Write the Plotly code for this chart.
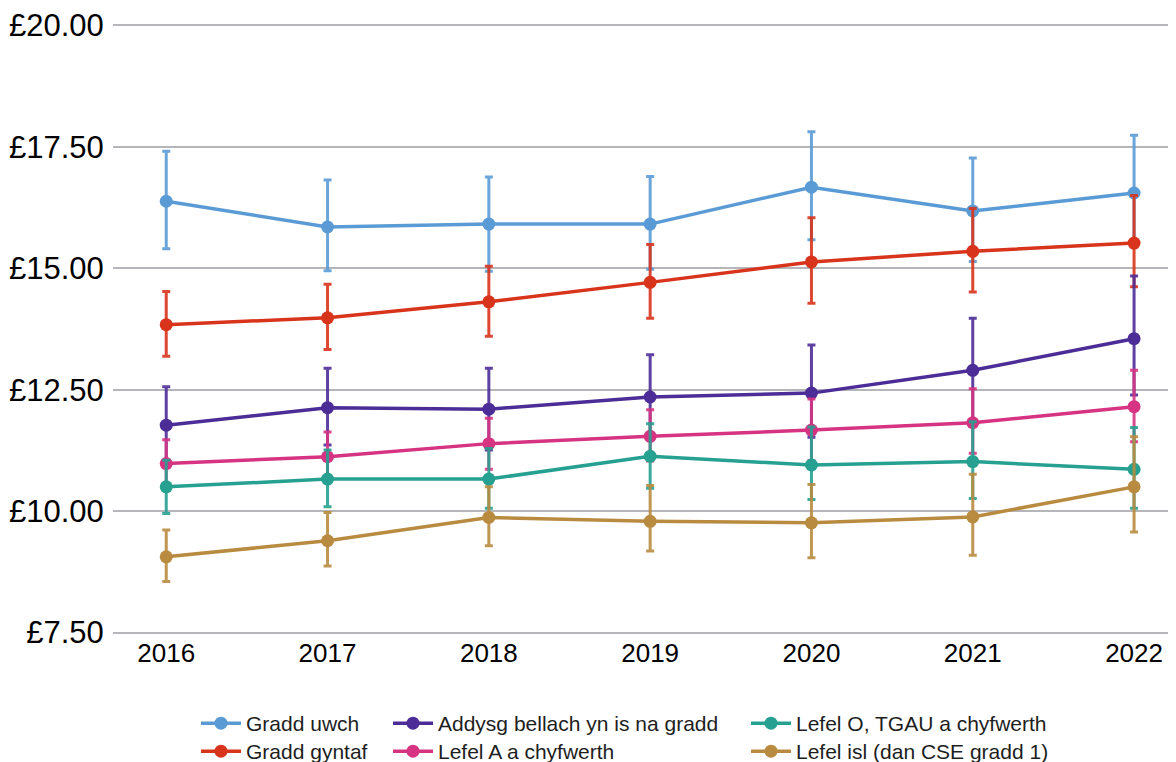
import plotly.graph_objects as go

years = [2016, 2017, 2018, 2019, 2020, 2021, 2022]

names = [
    'Gradd uwch',
    'Gradd gyntaf',
    'Addysg bellach yn is na gradd',
    'Lefel A a chyfwerth',
    'Lefel O, TGAU a chyfwerth',
    'Lefel isl (dan CSE gradd 1)',
]

gradd_uwch = [16.38, 15.85, 15.91, 15.91, 16.67, 16.18, 16.55]
gradd_uwch_hi = [17.41, 16.82, 16.88, 16.89, 17.81, 17.27, 17.74]
gradd_uwch_lo = [15.40, 14.95, 14.94, 14.98, 15.59, 15.14, 15.44]

gradd_gyntaf = [13.84, 13.98, 14.31, 14.71, 15.13, 15.35, 15.52]
gradd_gyntaf_hi = [14.52, 14.67, 15.04, 15.49, 16.04, 16.23, 16.50]
gradd_gyntaf_lo = [13.19, 13.33, 13.60, 13.97, 14.28, 14.51, 14.62]

addysg = [11.77, 12.13, 12.10, 12.35, 12.43, 12.90, 13.55]
addysg_hi = [12.56, 12.94, 12.94, 13.22, 13.42, 13.97, 14.84]
addysg_lo = [11.01, 11.36, 11.26, 11.53, 11.52, 11.87, 12.39]

lefel_a = [10.98, 11.12, 11.39, 11.54, 11.67, 11.82, 12.15]
lefel_a_hi = [11.47, 11.63, 11.91, 12.09, 12.31, 12.52, 12.90]
lefel_a_lo = [10.50, 10.64, 10.86, 11.03, 11.04, 11.19, 11.43]

lefel_o = [10.50, 10.66, 10.66, 11.13, 10.95, 11.02, 10.86]
lefel_o_hi = [11.05, 11.26, 11.29, 11.80, 11.73, 11.84, 11.72]
lefel_o_lo = [9.95, 10.09, 10.06, 10.47, 10.24, 10.26, 10.06]

lefel_isl = [9.06, 9.39, 9.87, 9.79, 9.76, 9.88, 10.50]
lefel_isl_hi = [9.61, 9.97, 10.50, 10.53, 10.55, 10.76, 11.53]
lefel_isl_lo = [8.55, 8.87, 9.29, 9.18, 9.04, 9.09, 9.57]

y_ticks = [7.5, 10, 12.5, 15, 17.5, 20]
y_tick_text = ['£7.50', '£10.00', '£12.50', '£15.00', '£17.50', '£20.00']

colors = [
    (91, 155, 213),
    (216, 52, 28),
    (76, 44, 150),
    (214, 52, 130),
    (38, 160, 144),
    (185, 139, 64),
]

series = [
    (gradd_uwch, gradd_uwch_hi, gradd_uwch_lo),
    (gradd_gyntaf, gradd_gyntaf_hi, gradd_gyntaf_lo),
    (addysg, addysg_hi, addysg_lo),
    (lefel_a, lefel_a_hi, lefel_a_lo),
    (lefel_o, lefel_o_hi, lefel_o_lo),
    (lefel_isl, lefel_isl_hi, lefel_isl_lo),
]

font_family = 'Liberation Sans, Arial, sans-serif'

# page body has an 8px margin, so the figure is a bit smaller than the window
W, H = 1168, 754

# one legend per entry so the 3x2 grid can have uneven columns
legend_ids = ['legend', 'legend2', 'legend3', 'legend4', 'legend5', 'legend6']
legend_x = [188, 188, 380, 380, 738, 738]
legend_y = [695, 723, 695, 723, 695, 723]

fig = go.Figure()

for i in range(len(names)):
    vals, hi, lo = series[i]
    r, g, b = colors[i]
    fig.add_trace(go.Scatter(
        x=years,
        y=vals,
        mode='lines+markers',
        name=names[i],
        legend=legend_ids[i],
        showlegend=True,
        line=dict(color='rgb(%d,%d,%d)' % (r, g, b), width=3.5),
        marker=dict(color='rgb(%d,%d,%d)' % (r, g, b), size=13),
        error_y=dict(
            type='data',
            symmetric=False,
            array=[h - v for h, v in zip(hi, vals)],
            arrayminus=[v - l for v, l in zip(vals, lo)],
            color='rgba(%d,%d,%d,0.9)' % (r, g, b),
            thickness=3,
            width=4,
        ),
    ))

legends = {}
for i in range(len(names)):
    legends[legend_ids[i]] = dict(
        orientation='v',
        xref='container',
        yref='container',
        xanchor='left',
        yanchor='top',
        x=legend_x[i] / W,
        y=1 - legend_y[i] / H,
        itemwidth=40,
        bgcolor='rgba(0,0,0,0)',
        font=dict(family=font_family, size=21, color='rgb(30,30,30)'),
    )

fig.update_layout(
    width=W,
    height=H,
    showlegend=True,
    plot_bgcolor='white',
    paper_bgcolor='white',
    margin=dict(l=105, r=0, t=15, b=127, autoexpand=False),
    font=dict(family=font_family, color='black'),
    xaxis=dict(
        range=[2015.67, 2022.26],
        tickvals=years,
        showgrid=False,
        zeroline=False,
        showline=False,
        automargin=False,
        tickfont=dict(size=26, color='black'),
        ticks='',
    ),
    yaxis=dict(
        range=[7.45, 20.05],
        tickvals=y_ticks,
        ticktext=y_tick_text,
        gridcolor='rgb(180,182,185)',
        gridwidth=2,
        zeroline=False,
        showline=False,
        automargin=False,
        tickfont=dict(size=31, color='black'),
        ticks='outside',
        ticklen=2,
        tickcolor='rgba(0,0,0,0)',
    ),
    **legends,
)

fig.write_html('out.html')
